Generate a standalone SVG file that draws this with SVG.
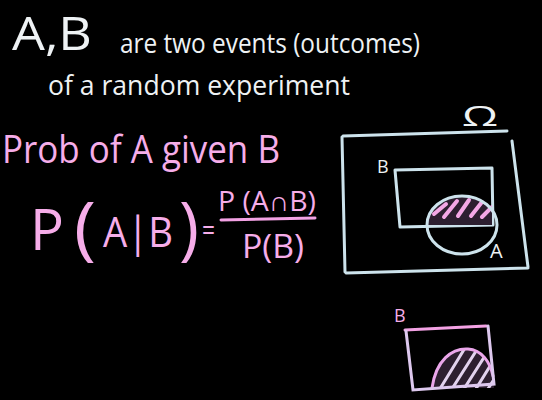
<svg xmlns="http://www.w3.org/2000/svg" width="542" height="400" viewBox="0 0 542 400">
<style>
.w{fill:#eef2f4;font-family:"Open Sans","Liberation Sans",sans-serif}
.p{fill:#f6ade9;font-family:"Open Sans","Liberation Sans",sans-serif}
.ln{fill:none;stroke:#cde3ec;stroke-width:3;stroke-linecap:round;stroke-linejoin:round}
.pk{fill:none;stroke:#f3a2e4;stroke-width:3;stroke-linecap:round;stroke-linejoin:round}
.hp{stroke:#f4a8e6;stroke-width:4;stroke-linecap:round}
.hw{stroke:#e2d2ee;stroke-width:3;stroke-linecap:round}
</style>
<defs>
<clipPath id="capA"><rect x="420" y="190" width="72" height="35"/></clipPath>
<clipPath id="hb"><path d="M432,388 C436,360 452,348 468,349 C482,350 490,362 493,376 L494,388 Z"/></clipPath>
</defs>
<rect width="542" height="400" fill="#000"/>
<g id="intro">
<text class="w" x="12" y="50" font-size="46" textLength="80" lengthAdjust="spacingAndGlyphs">A,B</text>
<text class="w" x="120" y="53" font-size="28" textLength="300" lengthAdjust="spacingAndGlyphs">are two events (outcomes)</text>
<text class="w" x="48" y="95" font-size="28" textLength="302" lengthAdjust="spacingAndGlyphs">of a random experiment</text>
</g>
<g id="title">
<text class="p" x="2" y="163" font-size="38" textLength="278" lengthAdjust="spacingAndGlyphs">Prob of A given B</text>
</g>
<g id="formula">
<text class="p" x="30" y="250" font-size="56" textLength="34" lengthAdjust="spacingAndGlyphs">P</text>
<text class="p" x="74" y="252" font-size="70" textLength="22" lengthAdjust="spacingAndGlyphs">(</text>
<text class="p" x="103" y="247" font-size="42" textLength="70" lengthAdjust="spacingAndGlyphs">A|B</text>
<text class="p" x="179" y="252" font-size="70" textLength="20" lengthAdjust="spacingAndGlyphs">)</text>
<text class="p" x="202" y="240" font-size="30" textLength="13" lengthAdjust="spacingAndGlyphs">=</text>
<text class="p" x="218" y="211" font-size="28" textLength="98" lengthAdjust="spacingAndGlyphs">P (A∩B)</text>
<path class="pk" d="M221,220 L315,218"/>
<text class="p" x="242" y="258" font-size="32" textLength="62" lengthAdjust="spacingAndGlyphs">P(B)</text>
</g>
<g id="sample-space">
<text class="w" x="462" y="126" font-size="28" fill="#cde3ec" textLength="36" lengthAdjust="spacingAndGlyphs">Ω</text>
<path class="ln" d="M343,136 L507,131 M512,141 L528,267 M528,268 L346,273 M345,272 L342,137"/>
</g>
<g id="event-B">
<text class="w" x="377" y="173" font-size="18" fill="#cde3ec">B</text>
<path class="ln" d="M395,170 L492,168 L493,225 L400,227 Z"/>
</g>
<g id="event-A">
<path fill="#2d1f30" clip-path="url(#capA)" d="M427,225 A35,29 0 0 1 497,225 Z"/>
<g clip-path="url(#capA)">
<line class="hp" x1="434" y1="214" x2="446" y2="204"/>
<line class="hp" x1="444" y1="217" x2="457" y2="201"/>
<line class="hp" x1="458" y1="216" x2="469" y2="200"/>
<line class="hp" x1="471" y1="216" x2="482" y2="202"/>
<line class="hp" x1="482" y1="217" x2="492" y2="207"/>
</g>
<ellipse class="ln" cx="462" cy="225" rx="35" ry="29"/>
<text class="w" x="490" y="258" font-size="20" fill="#cde3ec">A</text>
</g>
<g id="restricted-B">
<text class="p" x="394" y="322" font-size="18">B</text>
<path fill="#2d1f30" d="M432,388 C436,360 452,348 468,349 C482,350 490,362 493,376 L494,388 Z"/>
<g clip-path="url(#hb)">
<line class="hw" x1="438" y1="392" x2="465" y2="348"/>
<line class="hw" x1="450" y1="392" x2="478" y2="348"/>
<line class="hw" x1="462" y1="392" x2="490" y2="348"/>
<line class="hw" x1="474" y1="392" x2="500" y2="350"/>
<line class="hw" x1="486" y1="392" x2="505" y2="362"/>
</g>
<path fill="none" stroke="#eaa6ea" stroke-width="3" stroke-linecap="round" d="M432,388 C436,360 452,348 468,349 C482,350 490,362 493,376"/>
<path class="pk" d="M405,330 L486,326"/>
<path fill="none" stroke="#ddc8ee" stroke-width="3" stroke-linecap="round" d="M488,326 L494,384 L413,390 L406,331"/>
</g>
</svg>
